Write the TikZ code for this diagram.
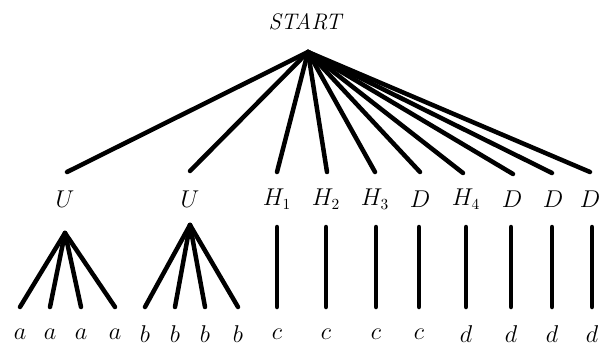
\documentclass[tikz,border=0pt]{standalone}
\usetikzlibrary{calc}
\begin{document}
\begin{tikzpicture}[x=0.025cm, y=-0.025cm, line width=3.2pt, line cap=round,
            lbl/.style={
            inner sep=0pt,
            font=\fontsize{16}{19}\selectfont}]
           \useasboundingbox (0,0) rectangle (600,350);

           \node[lbl] (start) at (306,22) {\textit{START}};
           \coordinate (top) at (308,52);

           % second level
           \foreach \n/\x/\ex/\ey/\t in {1/65/67/172/U, 2/190/190/171/U, 3/277/277/172/H_1, 4/326/327/172/H_2,
                      5/375/375/172/H_3, 6/420/420/172/D, 7/466/463/173/H_4, 8/512/513/174/D, 9/553/552/173/D, 10/590/590/172/D}
           {
                      \node[lbl] (mid\n) at (\x,199) {$\t$};
                      \coordinate (end\n) at (\ex,\ey);
                      \draw (top) -- (end\n);
           }

           % the two U subtrees
           \coordinate (uroot1) at (65,233);
           \coordinate (uroot2) at (190,225);
           \foreach \n/\x/\r/\t in {1/20/1/a, 2/50/1/a, 3/81/1/a, 4/115/1/a, 5/145/2/b, 6/175/2/b, 7/205/2/b, 8/238/2/b}
           {
                      \coordinate (ub\n) at (\x,307);
                      \draw (uroot\r) -- (ub\n);
                      \node[lbl] (leaf\n) at (\x,334) {$\t$};
           }

           % single chains
           \foreach \n/\x/\t in {9/277/c, 10/326/c, 11/376/c, 12/419/c, 13/466/d, 14/511/d, 15/552/d, 16/592/d}
           {
                      \coordinate (vt\n) at (\x,227);
                      \coordinate (vb\n) at (\x,307);
                      \draw (vt\n) -- (vb\n);
                      \node[lbl] (leaf\n) at (\x,334) {$\t$};
           }
\end{tikzpicture}
\end{document}
